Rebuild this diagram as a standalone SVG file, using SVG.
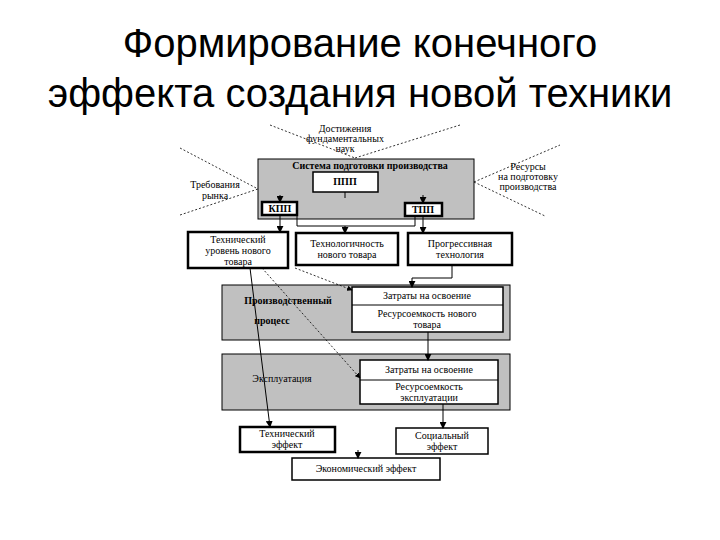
<svg xmlns="http://www.w3.org/2000/svg" width="720" height="540" viewBox="0 0 720 540">
<defs>
<style>
.t{font-family:"Liberation Serif",serif;font-size:10px;fill:#000;text-anchor:middle}
.b{font-weight:bold}
.w{fill:#fff;stroke:#000;stroke-width:1.5}
.wk{fill:#fff;stroke:#000;stroke-width:2.5}
.g{fill:#c0c0c0;stroke:#000;stroke-width:1}
.l{stroke:#000;stroke-width:1;fill:none}
.d{stroke:#000;stroke-width:0.8;fill:none;stroke-dasharray:2,2}
</style>
<marker id="a" viewBox="0 0 8 8" refX="7" refY="4" markerWidth="7" markerHeight="7" orient="auto"><path d="M0,0L8,4L0,8z" fill="#000"/></marker>
</defs>
<rect width="720" height="540" fill="#fff"/>
<text x="360" y="57" style="font-family:'Liberation Sans',sans-serif;font-size:40px;text-anchor:middle">Формирование конечного</text>
<text x="360" y="107" style="font-family:'Liberation Sans',sans-serif;font-size:40px;text-anchor:middle">эффекта создания новой техники</text>
<g id="inputs">
<text class="t" x="345" y="132">Достижения</text><text class="t" x="345" y="142">фундаментальных</text><text class="t" x="345" y="152">наук</text>
<text class="t" x="215" y="188">Требования</text><text class="t" x="215" y="199">рынка</text>
<text class="t" x="528" y="170">Ресурсы</text><text class="t" x="528" y="180">на подготовку</text><text class="t" x="528" y="190">производства</text>
</g>
<g id="system"><rect class="g" x="258" y="159" width="216" height="60"/><text class="t b" x="370" y="169">Система подготовки производства</text></g>
<g id="ppp"><rect class="w" x="313" y="172" width="65" height="20"/><text class="t b" x="345" y="185">ППП</text></g>
<g id="kpp"><rect class="wk" x="262" y="202" width="35" height="13"/><text class="t b" x="280" y="212">КПП</text></g>
<g id="tpp"><rect class="wk" x="405" y="203" width="37" height="13"/><text class="t b" x="423" y="213">ТПП</text></g>
<g id="tech"><rect class="wk" x="188" y="232" width="100" height="36"/><text class="t" x="238" y="243">Технический</text><text class="t" x="238" y="254">уровень нового</text><text class="t" x="238" y="265">товара</text></g>
<g id="techn"><rect class="wk" x="296" y="233" width="102" height="32"/><text class="t" x="347" y="247">Технологичность</text><text class="t" x="347" y="258">нового товара</text></g>
<g id="prog"><rect class="wk" x="408" y="233" width="104" height="32"/><text class="t" x="460" y="247">Прогрессивная</text><text class="t" x="460" y="258">технология</text></g>
<g id="prod"><rect class="g" x="222" y="285" width="288" height="55"/><text class="t b" x="288" y="304">Производственный</text><text class="t b" x="272" y="324">процесс</text>
<rect class="w" x="352" y="287" width="151" height="45"/><line class="l" x1="352" y1="305" x2="503" y2="305"/>
<text class="t" x="427" y="299">Затраты на освоение</text><text class="t" x="427" y="317">Ресурсоемкость нового</text><text class="t" x="427" y="328">товара</text></g>
<g id="expl"><rect class="g" x="222" y="354" width="288" height="56"/><text class="t" x="282" y="382">Эксплуатация</text>
<rect class="w" x="360" y="360" width="138" height="44"/><line class="l" x1="360" y1="380" x2="498" y2="380"/>
<text class="t" x="429" y="373">Затраты на освоение</text><text class="t" x="429" y="390">Ресурсоемкость</text><text class="t" x="429" y="401">эксплуатации</text></g>
<g id="teff"><rect class="wk" x="240" y="427" width="95" height="25"/><text class="t" x="287" y="437">Технический</text><text class="t" x="287" y="448">эффект</text></g>
<g id="seff"><rect class="w" x="396" y="428" width="92" height="26"/><text class="t" x="442" y="439">Социальный</text><text class="t" x="442" y="450">эффект</text></g>
<g id="eeff"><rect class="w" x="292" y="458" width="148" height="22"/><text class="t" x="366" y="472">Экономический эффект</text></g>
<g id="connectors">
<path class="d" d="M270,125L355,158M460,125L355,158M180,148L258,189M180,215L258,189M474,182L560,145M474,182L545,216"/>
<path class="l" d="M345,192V198"/>
<path class="l" d="M280,215V232" marker-end="url(#a)"/>
<path class="l" d="M280,195V202" marker-end="url(#a)"/>
<path class="l" d="M423,195V203" marker-end="url(#a)"/>
<path class="l" d="M423,216V233" marker-end="url(#a)"/>
<path class="l" d="M297,215V226H415V216"/>
<path class="l" d="M345,226V233" marker-end="url(#a)"/>
<path class="l" d="M452,265V278H412V287" marker-end="url(#a)"/>
<path class="l" d="M428,332V360" marker-end="url(#a)"/>
<path class="l" d="M443,404V428" marker-end="url(#a)"/>
<path class="l" d="M358,450V458" marker-end="url(#a)"/>
<path class="d" d="M295,268L352,290" marker-end="url(#a)"/>
<path class="d" d="M262,268L360,378" marker-end="url(#a)"/>
<path class="l" stroke-width="0.7" d="M250,268L270,427" marker-end="url(#a)"/>
</g>
</svg>
